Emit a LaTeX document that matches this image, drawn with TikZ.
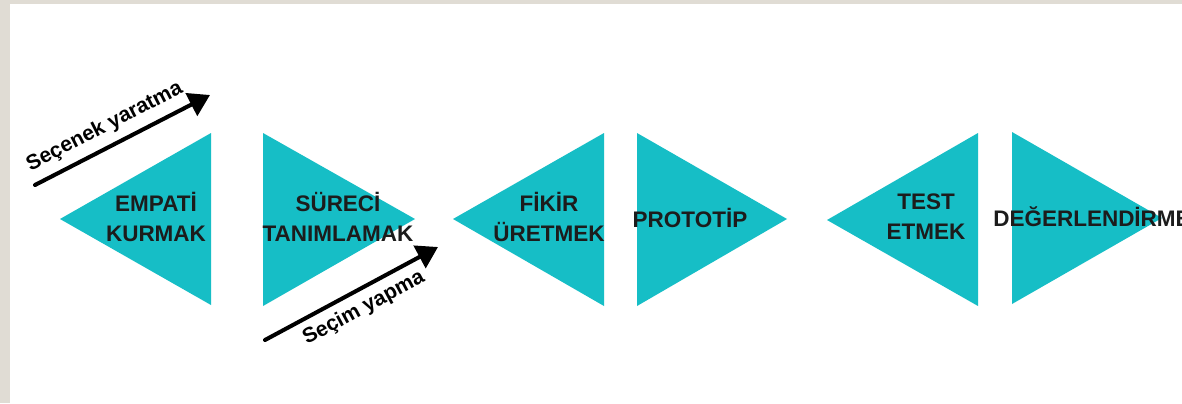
\documentclass[tikz,border=0pt]{standalone}
\usepackage{fontspec}
\setmainfont{Liberation Sans}
\usetikzlibrary{arrows.meta}
\definecolor{teal1}{RGB}{22,190,198}
\definecolor{ink}{RGB}{28,28,28}
\definecolor{frame}{RGB}{224,220,212}

\begin{document}
\begin{tikzpicture}[
        x=0.02cm, y=-0.02cm,
        every node/.style={align=center, inner sep=0pt, text=ink,
        font=\bfseries\fontsize{12.8}{17}\selectfont},
        tri/.style={fill=teal1},
        flow/.style={line width=2.3pt, line cap=round,
        -{Triangle[length=0.42cm, width=0.5cm]}},
        flowlabel/.style={sloped, text=black,
        font=\bfseries\fontsize{12}{14}\selectfont}
      ]
    \useasboundingbox (0,0) rectangle (1182,403);
    \fill[frame] (0,0) rectangle (1182,403);
    \fill[white] (10,4) rectangle (1182,403);
    % triangles
    \fill[tri] (60,219) -- (211,133) -- (211,305) -- cycle;
    \fill[tri] (263,133) -- (415,219) -- (263,306) -- cycle;
    \fill[tri] (453,219) -- (604,133) -- (604,306) -- cycle;
    \fill[tri] (637,133) -- (787,219) -- (637,306) -- cycle;
    \fill[tri] (827,220) -- (978,133) -- (978,306) -- cycle;
    \fill[tri] (1012,132) -- (1162,218) -- (1012,304) -- cycle;
    % labels
    \node (empati) at (156,217) {EMPATİ\\KURMAK};
    \node (surec) at (338,217) {SÜRECİ\\TANIMLAMAK};
    \node (fikir) at (549,217) {FİKİR\\ÜRETMEK};
    \node (proto) at (690,218) {PROTOTİP};
    \node (test) at (926,217) {TEST\\ETMEK};
    \node (degr) at (1092,217) {DEĞERLENDİRME};
    % arrows
    \coordinate (ys) at (35,185);
    \coordinate (ye) at (210,95);
    \coordinate (ss) at (265,340);
    \coordinate (se) at (438,247);
    \draw[flow] (ys) -- (ye)
    node[flowlabel, pos=0.45, above=0.16cm] (yarat) {Seçenek yaratma};
    \draw[flow] (ss) -- (se)
    node[flowlabel, pos=0.52, below=0.14cm] (secim) {Seçim yapma};
      \end{tikzpicture}
\end{document}
